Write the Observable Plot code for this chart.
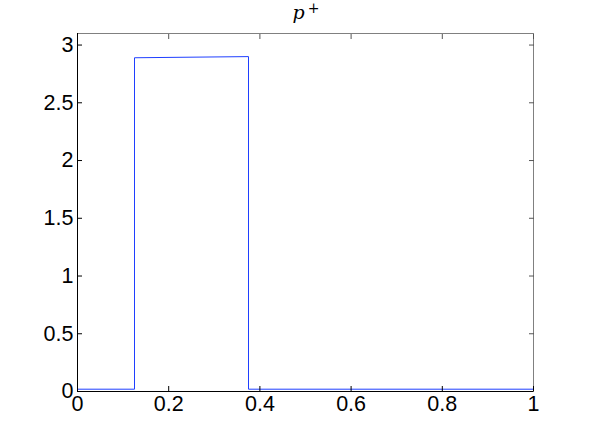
<!DOCTYPE html>
<html>
<head>
<meta charset="utf-8">
<script src="https://cdn.jsdelivr.net/npm/d3@7"></script>
<script src="https://cdn.jsdelivr.net/npm/@observablehq/plot@0.6"></script>
<style>
  html, body { margin: 0; padding: 0; background: #fff; }
  #chart svg { display: block; }
</style>
</head>
<body>
<div id="chart"></div>
<script>
// Step function p+ sampled on [0, 1]
const xValues = [0, 0.125, 0.125, 0.375, 0.375, 1];
const pValues = [0.02, 0.02, 2.89, 2.90, 0.02, 0.02];
const xTicks = [0, 0.2, 0.4, 0.6, 0.8, 1];
const yTicks = [0, 0.5, 1, 1.5, 2, 2.5, 3];
const titleMain = "p";
const titleSup = "+";

const data = xValues.map((x, i) => ({x, p: pValues[i]}));
const fmt = d => String(d);
const tickFont = {fontSize: 21.5, fontFamily: "Liberation Sans, Arial, sans-serif"};

const chart = Plot.plot({
  width: 589,
  height: 441,
  marginLeft: 77,
  marginRight: 56,
  marginTop: 33,
  marginBottom: 50,
  style: {background: "#fff", color: "#000", fontFamily: "Liberation Sans, Arial, sans-serif"},
  x: {domain: [0, 1]},
  y: {domain: [0, 3.1]},
  marks: [
    Plot.ruleY([3.1], {stroke: "#808080", strokeWidth: 1}),
    Plot.ruleX([1], {stroke: "#808080", strokeWidth: 1}),
    Plot.axisX({anchor: "top", ticks: xTicks, tickSize: -5, tickFormat: () => "", label: null, stroke: "#555"}),
    Plot.axisY({anchor: "right", ticks: yTicks, tickSize: -5, tickFormat: () => "", label: null, stroke: "#555"}),
    Plot.line(data, {x: "x", y: "p", stroke: "#1f3fff", strokeWidth: 1}),
    Plot.ruleX([0], {stroke: "#000", strokeWidth: 1}),
    Plot.ruleY([0], {stroke: "#000", strokeWidth: 1}),
    Plot.axisX({anchor: "bottom", ticks: xTicks, tickSize: -5, tickPadding: 9, tickFormat: fmt, label: null, ...tickFont, fill: "#000"}),
    Plot.axisY({anchor: "left", ticks: yTicks, tickSize: -5, tickPadding: 9, tickFormat: fmt, label: null, ...tickFont, fill: "#000"}),
    Plot.text([titleMain], {frameAnchor: "top", text: d => d, lineAnchor: "top", dx: -7, dy: -28.5, fontSize: 19, fontStyle: "italic", fontFamily: "DejaVu Serif, Liberation Serif, serif", fill: "#000"}),
    Plot.text([titleSup], {frameAnchor: "top", text: d => d, lineAnchor: "top", dx: 8, dy: -30, fontSize: 14, fontFamily: "DejaVu Serif, Liberation Serif, serif", fill: "#000"})
  ]
});
document.getElementById("chart").appendChild(chart);
</script>
</body>
</html>
